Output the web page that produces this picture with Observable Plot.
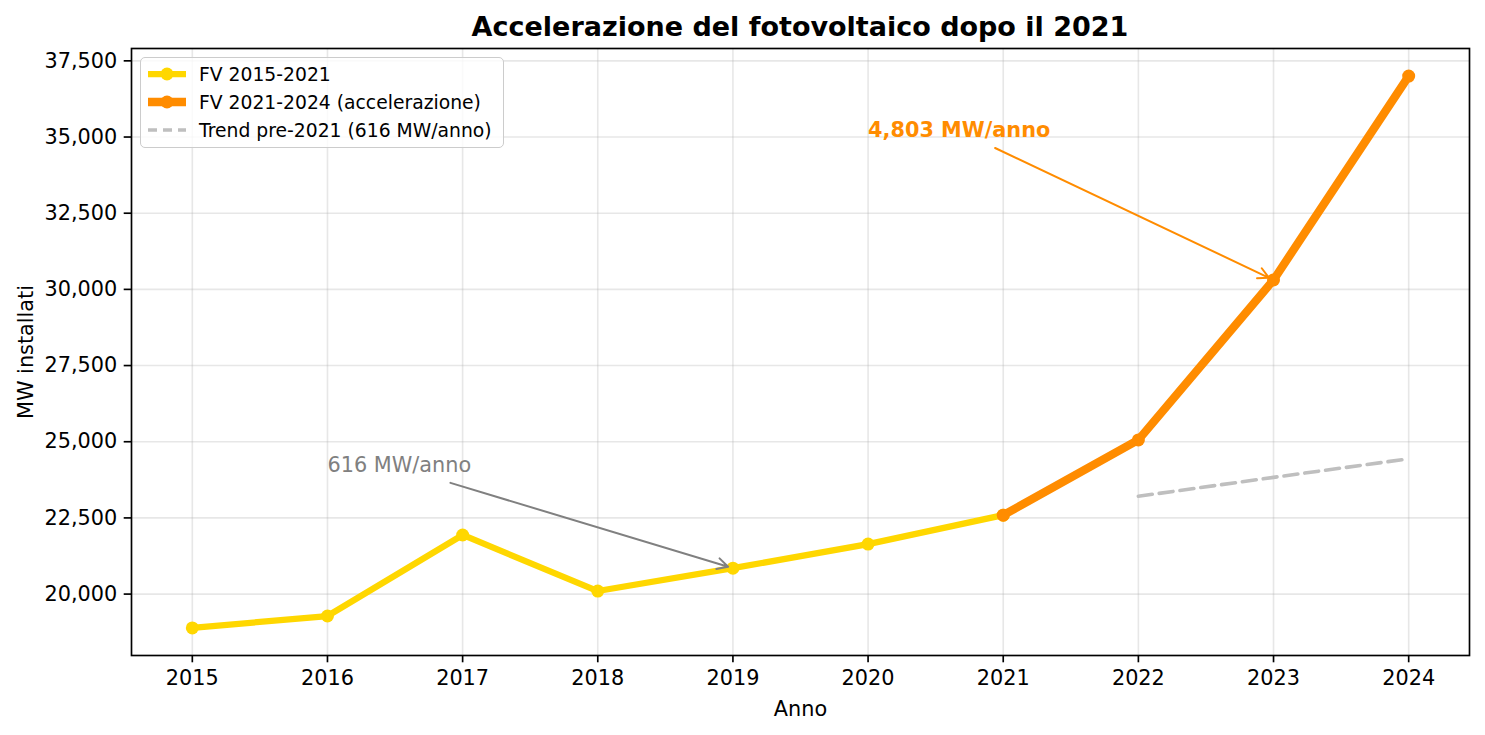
<!DOCTYPE html>
<html>
<head>
<meta charset="utf-8">
<script src="https://cdn.jsdelivr.net/npm/d3@7"></script>
<script src="https://cdn.jsdelivr.net/npm/@observablehq/plot@0.6"></script>
<style>
  html, body { margin: 0; padding: 0; background: #fff; }
  body { width: 1485px; height: 735px; overflow: hidden; font-family: "DejaVu Sans", sans-serif; }
  #wrap { position: relative; width: 1485px; height: 735px; }
  #title { position: absolute; left: 131px; width: 1338px; top: 13px; text-align: center;
           font-size: 27px; line-height: 27px; font-weight: bold; color: #000; }
  #legend { position: absolute; left: 140px; top: 57px; width: 362px; height: 89px;
            border: 1px solid #cccccc; border-radius: 5px; background: rgba(255,255,255,0.8); }
  .row { position: absolute; left: 0; height: 28px; display: flex; align-items: center; font-size: 18.75px; color: #000; }
  .row svg { margin-left: 7px; margin-right: 13px; }
</style>
</head>
<body>
<div id="wrap">
  <div id="chart"></div>
  <div id="title">Accelerazione del fotovoltaico dopo il 2021</div>
  <div id="legend"></div>
</div>
<script>
// Data
const yearsPre = [2015, 2016, 2017, 2018, 2019, 2020, 2021];
const mwPre = [18890, 19280, 21940, 20100, 20850, 21640, 22590];
const yearsPost = [2021, 2022, 2023, 2024];
const mwPost = [22590, 25060, 30310, 37000];
const yearsTrend = [2022, 2023, 2024];
const mwTrend = [23210, 23830, 24440];
const xTicks = [2015, 2016, 2017, 2018, 2019, 2020, 2021, 2022, 2023, 2024];
const yTicks = [20000, 22500, 25000, 27500, 30000, 32500, 35000, 37500];

// Annotations (data coordinates)
const annoLabels = ["616 MW/anno", "4,803 MW/anno"];
const annoTextX = [2016, 2020];
const annoTextY = [24000, 35000];
const annoArrowFromX = [2016.91, 2020.94];
const annoArrowFromY = [23650, 34640];
const annoArrowToX = [2019, 2023];
const annoArrowToY = [20850, 30310];
const annoColors = ["#808080", "#ff8c00"];
const annoWeights = ["normal", "bold"];

const legendLabels = ["FV 2015-2021", "FV 2021-2024 (accelerazione)", "Trend pre-2021 (616 MW/anno)"];

const YELLOW = "#ffd700", ORANGE = "#ff8c00", TREND = "#bfbfbf";

const pre = yearsPre.map((x, i) => ({x, y: mwPre[i]}));
const post = yearsPost.map((x, i) => ({x, y: mwPost[i]}));
const trend = yearsTrend.map((x, i) => ({x, y: mwTrend[i]}));
const anno = annoLabels.map((t, i) => ({
  t, x: annoTextX[i], y: annoTextY[i],
  x1: annoArrowFromX[i], y1: annoArrowFromY[i], x2: annoArrowToX[i], y2: annoArrowToY[i],
  c: annoColors[i], w: annoWeights[i]
}));

const xmin = d3.min(yearsPre), xmax = d3.max(yearsPost);
const ymin = d3.min(mwPre), ymax = d3.max(mwPost);
const xpad = (xmax - xmin) * 0.05, ypad = (ymax - ymin) * 0.05;

const chart = Plot.plot({
  width: 1485,
  height: 735,
  marginLeft: 131,
  marginRight: 16,
  marginTop: 48,
  marginBottom: 80,
  style: {fontFamily: "DejaVu Sans", fontSize: "20.8px", background: "white", color: "black"},
  x: {domain: [xmin - xpad, xmax + xpad]},
  y: {domain: [ymin - ypad, ymax + ypad]},
  marks: [
    Plot.gridX(xTicks, {stroke: "#b0b0b0", strokeOpacity: 0.3, strokeWidth: 1.6}),
    Plot.gridY(yTicks, {stroke: "#b0b0b0", strokeOpacity: 0.3, strokeWidth: 1.6}),
    Plot.line(pre, {x: "x", y: "y", stroke: YELLOW, strokeWidth: 6.25}),
    Plot.dot(pre, {x: "x", y: "y", r: 6.5, fill: YELLOW}),
    Plot.line(post, {x: "x", y: "y", stroke: ORANGE, strokeWidth: 8.3}),
    Plot.dot(post, {x: "x", y: "y", r: 6.5, fill: ORANGE}),
    Plot.line(trend, {x: "x", y: "y", stroke: TREND, strokeWidth: 3.6, strokeDasharray: "14,7"}),
    Plot.arrow(anno, {x1: "x1", y1: "y1", x2: "x2", y2: "y2", stroke: "c", strokeWidth: 2,
      headLength: 9, headAngle: 55, insetEnd: 5, bend: 0}),
    Plot.text(anno.filter(d => d.w === "normal"), {x: "x", y: "y", text: "t", fill: "c",
      textAnchor: "start", lineAnchor: "bottom", fontSize: 20.8, dy: 0}),
    Plot.text(anno.filter(d => d.w === "bold"), {x: "x", y: "y", text: "t", fill: "c",
      textAnchor: "start", lineAnchor: "bottom", fontSize: 20.8, fontWeight: "bold", dy: 0}),
    Plot.frame({stroke: "black", strokeWidth: 1.67}),
    Plot.axisX({ticks: xTicks, tickFormat: d3.format("d"), tickSize: 7.3, tickPadding: 7,
      strokeWidth: 1.67, fontSize: 20.8, label: "Anno", labelAnchor: "center", labelArrow: "none", labelOffset: 60}),
    Plot.axisY({ticks: yTicks, tickFormat: d3.format(","), tickSize: 7.3, tickPadding: 7,
      strokeWidth: 1.67, fontSize: 20.8, label: "MW installati", labelAnchor: "center", labelArrow: "none", labelOffset: 113})
  ]
});
document.getElementById("chart").appendChild(chart);

// Legend
const legend = document.getElementById("legend");
const legendStyles = [
  {stroke: YELLOW, width: 6.25, dot: true, dash: null},
  {stroke: ORANGE, width: 8.3, dot: true, dash: null},
  {stroke: TREND, width: 3.6, dot: false, dash: "9,6"}
];
legendLabels.forEach((lab, i) => {
  const s = legendStyles[i];
  const row = document.createElement("div");
  row.className = "row";
  row.style.top = (2 + i * 28) + "px";
  const svg = d3.create("svg").attr("width", 38).attr("height", 20);
  svg.append("line").attr("x1", 0).attr("x2", 38).attr("y1", 10).attr("y2", 10)
    .attr("stroke", s.stroke).attr("stroke-width", s.width).attr("stroke-dasharray", s.dash);
  if (s.dot) svg.append("circle").attr("cx", 19).attr("cy", 10).attr("r", 6.5).attr("fill", s.stroke);
  row.appendChild(svg.node());
  const span = document.createElement("span");
  span.textContent = lab;
  row.appendChild(span);
  legend.appendChild(row);
});
</script>
</body>
</html>
